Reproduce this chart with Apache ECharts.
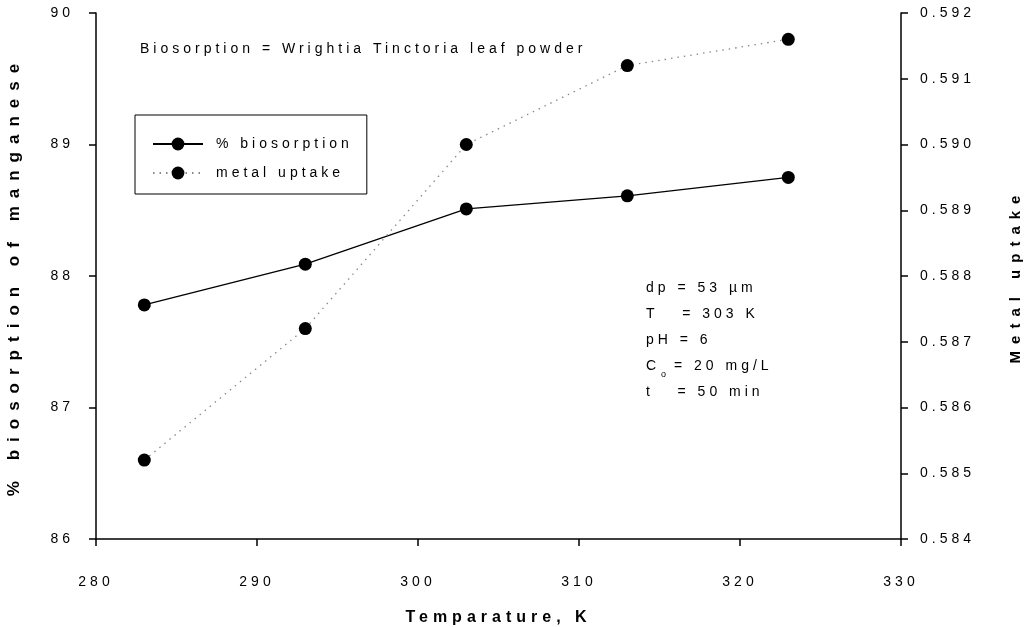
<!DOCTYPE html>
<html>
<head>
<meta charset="utf-8">
<script src="https://cdn.jsdelivr.net/npm/echarts@6/dist/echarts.min.js"></script>
<style>
  html, body { margin: 0; padding: 0; background: #fff; }
  #chart { width: 1025px; height: 627px; }
</style>
</head>
<body>
<div id="chart"></div>
<script>
const temperatures = [283, 293, 303, 313, 323];
const biosorption = [87.78, 88.09, 88.51, 88.61, 88.75];
const metalUptake = [0.5852, 0.5872, 0.5900, 0.5912, 0.5916];
const conditions = ["dp = 53 \u00b5m", "T   = 303 K", "pH = 6", "C{sub|o} = 20 mg/L", "t   = 50 min"];

const font = "Liberation Sans";

// the original plot uses widely spaced lettering; canvas letterSpacing gives that look
const titleSpacing = { "bold 17px": "8px", "bold 16px": "5px", "bold 15px": "7px" };
const spacingFor = (f) => {
  for (const key in titleSpacing) if (f.indexOf(key) >= 0) return titleSpacing[key];
  if (/\b9px/.test(f)) return "0px";
  return "4px";
};
["fillText", "strokeText", "measureText"].forEach((fn) => {
  const orig = CanvasRenderingContext2D.prototype[fn];
  CanvasRenderingContext2D.prototype[fn] = function (...args) {
    if ("letterSpacing" in this) this.letterSpacing = spacingFor(this.font);
    return orig.apply(this, args);
  };
});

const chart = echarts.init(document.getElementById("chart"));

const pairs = (ys) => temperatures.map((t, i) => [t, ys[i]]);

chart.setOption({
  animation: false,
  backgroundColor: "#fff",
  textStyle: { fontFamily: font, color: "#000" },
  grid: { left: 96, right: 124, top: 13, bottom: 88, outerBoundsMode: "none" },
  legend: {
    orient: "vertical",
    left: 135,
    top: 115,
    padding: [20, 14, 12, 17],
    itemGap: 11,
    itemWidth: 50,
    itemHeight: 16,
    borderColor: "#000",
    borderWidth: 1,
    textStyle: { fontSize: 14, padding: [0, 0, 0, 8], color: "#000" },
    data: ["% biosorption", "metal uptake"]
  },
  xAxis: {
    type: "value",
    min: 280,
    max: 330,
    interval: 10,
    name: "Temparature, K",
    nameLocation: "middle",
    nameGap: 68,
    nameTextStyle: { fontSize: 16, fontWeight: "bold" },
    axisLine: { onZero: false, lineStyle: { color: "#000", width: 1.5 } },
    axisTick: { length: 7, lineStyle: { color: "#000", width: 1.5 } },
    axisLabel: { margin: 34, fontSize: 14, color: "#000" },
    splitLine: { show: false }
  },
  yAxis: [
    {
      type: "value",
      min: 86,
      max: 90,
      interval: 1,
      name: "% biosorption of manganese",
      nameLocation: "middle",
      nameGap: 69,
      nameTextStyle: { fontSize: 17, fontWeight: "bold" },
      axisLine: { show: true, lineStyle: { color: "#000", width: 1.5 } },
      axisTick: { show: true, length: 7, lineStyle: { color: "#000", width: 1.5 } },
      axisLabel: { margin: 22, fontSize: 14, color: "#000" },
      splitLine: { show: false }
    },
    {
      type: "value",
      min: 0.584,
      max: 0.592,
      interval: 0.001,
      position: "right",
      name: "Metal uptake",
      nameLocation: "middle",
      nameGap: 104,
      nameTextStyle: { fontSize: 15, fontWeight: "bold" },
      axisLine: { show: true, lineStyle: { color: "#000", width: 1.5 } },
      axisTick: { show: true, length: 7, lineStyle: { color: "#000", width: 1.5 } },
      axisLabel: { margin: 19, fontSize: 14, color: "#000", formatter: (v) => v.toFixed(3) },
      splitLine: { show: false }
    }
  ],
  series: [
    {
      name: "% biosorption",
      type: "line",
      yAxisIndex: 0,
      data: pairs(biosorption),
      symbol: "circle",
      symbolSize: 13,
      itemStyle: { color: "#000" },
      lineStyle: { color: "#000", width: 1.3 }
    },
    {
      name: "metal uptake",
      type: "line",
      yAxisIndex: 1,
      data: pairs(metalUptake),
      symbol: "circle",
      symbolSize: 13,
      itemStyle: { color: "#000" },
      lineStyle: { color: "#888", width: 1.3, type: [1.5, 5] }
    }
  ],
  graphic: [
    {
      type: "text",
      left: 140,
      top: 40,
      style: { text: "Biosorption = Wrightia Tinctoria leaf powder", font: "14px " + font, fill: "#000" }
    },
    {
      type: "text",
      left: 646,
      top: 275,
      style: {
        text: conditions.join("\n"),
        font: "14px " + font,
        fill: "#000",
        lineHeight: 26,
        rich: {
          sub: { fontSize: 9, verticalAlign: "bottom", padding: [10, 0, 0, 1], fontFamily: font }
        }
      }
    }
  ]
});
</script>
</body>
</html>
